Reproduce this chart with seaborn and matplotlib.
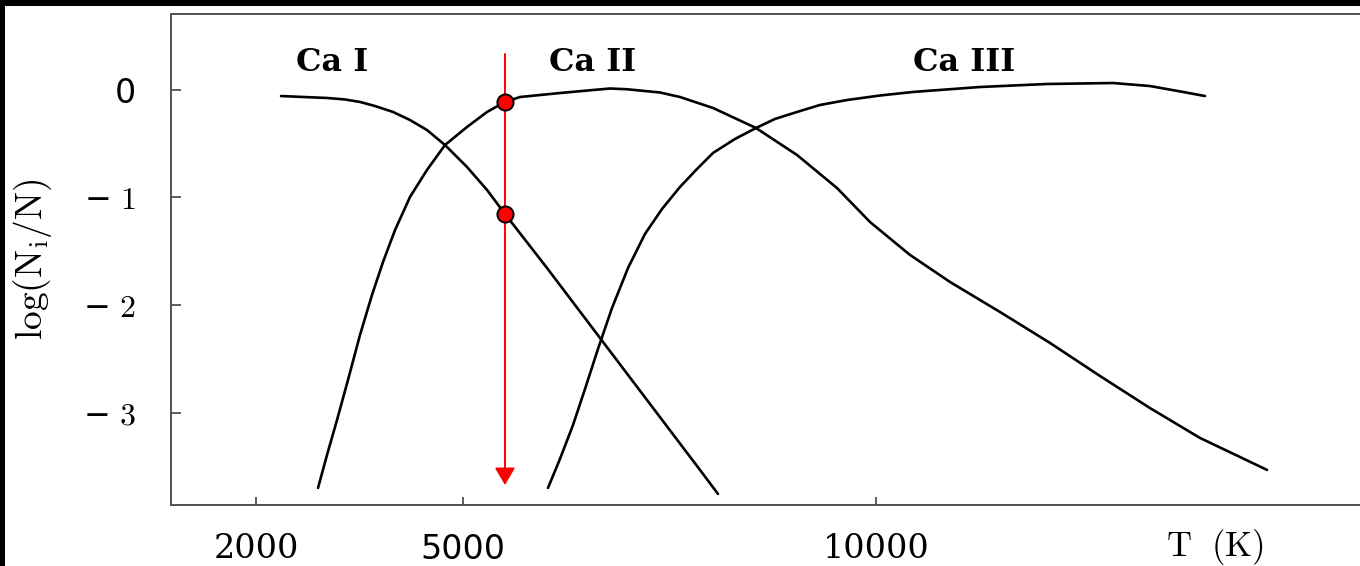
import numpy as np
import pandas as pd
import matplotlib
matplotlib.use("Agg")
import matplotlib.pyplot as plt
from matplotlib.patches import Rectangle
import seaborn as sns

# Ionization fractions of calcium, log(N_i/N) versus temperature
ca1_T = [2362, 3029, 3290, 3507, 3725, 3986, 4232, 4478, 4739, 5048, 5291,
         5508, 6017, 6356, 6659, 6961, 7264, 7567, 7869, 8087]
ca1_logN = [-0.058, -0.076, -0.090, -0.113, -0.151, -0.206, -0.281, -0.374,
            -0.513, -0.717, -0.931, -1.154, -1.656, -2.000, -2.307, -2.613,
            -2.920, -3.227, -3.533, -3.756]

ca2_T = [2899, 3029, 3174, 3333, 3507, 3681, 3841, 4015, 4232, 4478, 4739,
         5048, 5291, 5508, 5690, 6174, 6574, 6780, 6986, 7385, 7627, 8027,
         8547, 9044, 9528, 9928, 10412, 10896, 11501, 12107, 12712, 13317,
         13923, 14407, 14734]
ca2_logN = [-3.700, -3.394, -3.069, -2.697, -2.279, -1.907, -1.600, -1.303,
            -0.996, -0.745, -0.513, -0.346, -0.206, -0.113, -0.067, -0.030,
            -0.002, 0.012, 0.005, -0.025, -0.067, -0.169, -0.355, -0.606,
            -0.913, -1.229, -1.535, -1.786, -2.065, -2.353, -2.660, -2.958,
            -3.236, -3.413, -3.533]

ca3_T = [6029, 6174, 6332, 6477, 6634, 6804, 6998, 7203, 7409, 7627, 7833,
         8027, 8293, 8547, 8777, 9044, 9322, 9649, 10049, 10448, 11259, 12070,
         12870, 13317, 13717, 13983]
ca3_logN = [-3.700, -3.431, -3.115, -2.781, -2.409, -2.028, -1.656, -1.340,
            -1.108, -0.903, -0.736, -0.587, -0.457, -0.355, -0.271, -0.206,
            -0.141, -0.095, -0.053, -0.020, 0.026, 0.054, 0.063, 0.035,
            -0.020, -0.058]

ion_names = ["Ca I", "Ca II", "Ca III"]
ion_label_T = [3101, 6574, 11066]
ion_label_y = 0.25

# Chosen temperature and the two fractions read there
mark_T = 5508
mark_logN = [-0.113, -1.154]
arrow_top = 0.333
arrow_bottom = -3.673

xtick_vals = [2000, 5000, 10000]
xtick_text = ["2000", "5000", "10000"]
ytick_vals = [0, -1, -2, -3]
ytick_text = ["0", "\u2212 $1$", "\u2212 $2$", "\u2212 $3$"]

# Temperature axis is piecewise linear between the labelled ticks
_scale_T = np.array([0.0, 2000.0, 5000.0, 10000.0, 30000.0])
_scale_u = np.array([118.0, 256.0, 463.0, 876.0, 2528.0])


def t_forward(t):
    return np.interp(t, _scale_T, _scale_u)


def t_inverse(u):
    return np.interp(u, _scale_u, _scale_T)


sns.set_style("white")
plt.rcParams["mathtext.fontset"] = "cm"
plt.rcParams["font.family"] = ["DejaVu Serif", "DejaVu Sans"]
plt.rcParams["text.color"] = "black"
plt.rcParams["axes.labelcolor"] = "black"
plt.rcParams["xtick.color"] = "black"
plt.rcParams["ytick.color"] = "black"

W, H = 1360, 566
fig = plt.figure(figsize=(W / 100, H / 100), dpi=100, facecolor="black")
fig.patches.append(Rectangle((5 / W, 0), 1, (H - 6) / H, transform=fig.transFigure,
                             facecolor="white", edgecolor="none", zorder=-10))

ax = fig.add_axes([171 / W, (H - 505) / H, (1400 - 171) / W, (505 - 14) / H])
ax.set_facecolor("white")
ax.set_xscale("function", functions=(t_forward, t_inverse))

df = pd.concat([
    pd.DataFrame({"T": ca1_T, "logN": ca1_logN, "ion": "Ca I"}),
    pd.DataFrame({"T": ca2_T, "logN": ca2_logN, "ion": "Ca II"}),
    pd.DataFrame({"T": ca3_T, "logN": ca3_logN, "ion": "Ca III"}),
])
sns.lineplot(data=df, x="T", y="logN", units="ion", estimator=None, sort=False,
             color="black", linewidth=1.9, ax=ax, legend=False)

ax.annotate("", xy=(mark_T, arrow_bottom), xytext=(mark_T, arrow_top),
            arrowprops=dict(arrowstyle="-|>,head_length=1.05,head_width=0.62",
                            color="#ff0000", lw=1.4, shrinkA=0, shrinkB=0),
            zorder=3)
sns.scatterplot(x=[mark_T] * len(mark_logN), y=mark_logN, s=135, color="#ff0000",
                edgecolor="black", linewidth=1.4, zorder=4, ax=ax, legend=False)

for name, tx in zip(ion_names, ion_label_T):
    ax.text(tx, ion_label_y, name, ha="center", va="center", fontsize=23,
            fontweight="bold", family="DejaVu Serif", color="black")

ax.set_xlim(768, 16344)
ax.set_ylim(-3.859, 0.7045)

ax.set_xticks(xtick_vals)
ax.set_xticklabels(xtick_text)
ax.set_yticks(ytick_vals)
ax.set_yticklabels(ytick_text)
ax.tick_params(axis="x", bottom=True, direction="in", length=6, width=1.3,
               color="#505050", labelcolor="black", pad=20, labelsize=24)
ax.tick_params(axis="y", left=True, direction="in", length=7, width=1.3,
               color="#505050", labelcolor="black", pad=25, labelsize=21)
for lab in ax.get_xticklabels():
    lab.set_family("DejaVu Sans" if lab.get_text() == "5000" else "DejaVu Serif")
for lab in ax.get_yticklabels():
    lab.set_family("DejaVu Sans")
    if lab.get_text() == "0":
        lab.set_fontsize(24)
    else:
        lab.set_fontsize(23)

for side, sp in ax.spines.items():
    sp.set_color("#505050")
    sp.set_linewidth(1.4)
    sp.set_visible(side in ("left", "bottom", "top"))

ax.set_xlabel(r"$\mathrm{T\ \ (K)}$", fontsize=25, color="black")
ax.xaxis.set_label_coords((1215 - 171) / 1229, -(547 - 505) / 491)
ax.xaxis.label.set_verticalalignment("center")
ax.set_ylabel(r"$\log(\mathrm{N_i/N})$", fontsize=27, color="black")
ax.yaxis.set_label_coords((32 - 171) / 1229, 0.5)
ax.yaxis.label.set_verticalalignment("center")

fig.savefig("out.png", dpi=100, facecolor=fig.get_facecolor())
